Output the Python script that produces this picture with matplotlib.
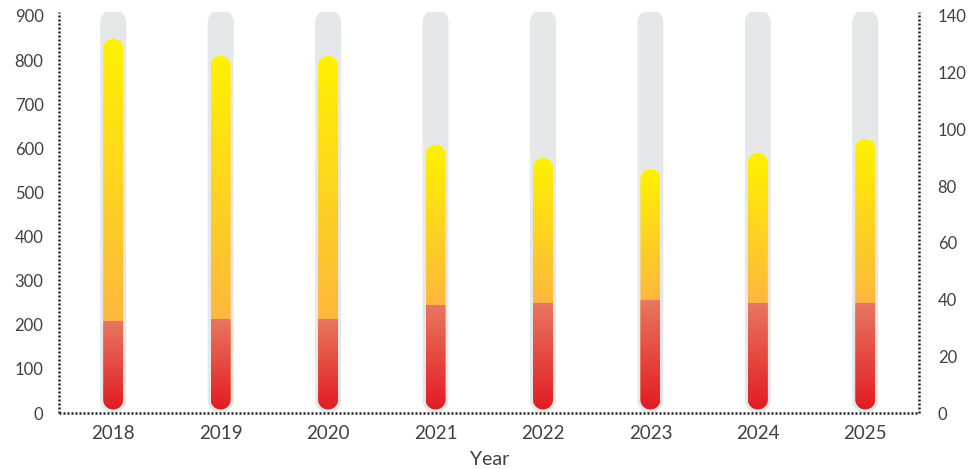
import numpy as np
import matplotlib
matplotlib.use('Agg')
import matplotlib.pyplot as plt
from matplotlib.patches import Polygon
from matplotlib.colors import LinearSegmentedColormap

years = ['2018', '2019', '2020', '2021', '2022', '2023', '2024', '2025']
totals = [848, 809, 809, 608, 578, 553, 589, 621]          # left axis
reds = [32.5, 33.3, 33.3, 38.1, 38.9, 39.8, 38.9, 38.9]    # right axis
track_max = 900

plt.rcParams['font.family'] = ['Lato', 'DejaVu Sans']
txt = '#414042'
dark = '#231F20'

W, H = 970, 469
fig = plt.figure(figsize=(W / 100, H / 100), dpi=100)
x0, x1, ytop, ybot = 59.5, 919, 12, 413
ax = fig.add_axes([x0 / W, (H - ybot) / H, (x1 - x0) / W, (ybot - ytop) / H])
ax2 = ax.twinx()

ymax = 909
ymax2 = ymax * 140 / 900
sx = (x1 - x0) / 8
sy = (ybot - ytop) / ymax
sy2 = (ybot - ytop) / ymax2

yel = LinearSegmentedColormap.from_list('yel', ['#FDB83C', '#FFF200'])
red = LinearSegmentedColormap.from_list('red', ['#E31B23', '#E8775E'])


def capsule(a, x, y0, y1, wpx, syy, top=True, **kw):
    # rounded column in data coords, radius = half width in pixels
    rx = wpx / 2 / sx
    ry = wpx / 2 / syy
    t = np.linspace(0, np.pi, 40)
    pts = []
    if top:
        pts += list(zip(x + rx * np.cos(t), y1 - ry + ry * np.sin(t)))
    else:
        pts += [(x + rx, y1), (x - rx, y1)]
    pts += list(zip(x - rx * np.cos(t), y0 + ry - ry * np.sin(t)))
    return Polygon(pts, closed=True, transform=a.transData, **kw)


for i, (v, r) in enumerate(zip(totals, reds)):
    # grey track
    ax.add_patch(capsule(ax, i, 0, track_max + 6.6 / sy, 26, sy,
                         facecolor='#E6E7E8', edgecolor='none', zorder=1))
    w = 20 / sx
    # yellow column, gradient from red top to column top
    b = 3.5 / sy
    rl = r * 900 / 140
    clip = capsule(ax, i, b, v, 20, sy, facecolor='none', edgecolor='none')
    yy = np.linspace(b, v, 300)
    g = np.clip((yy - rl) / (v - rl), 0, 1)[:, None]
    im = ax.imshow(g, extent=[i - w / 2, i + w / 2, b, v], origin='lower',
                   aspect='auto', cmap=yel, vmin=0, vmax=1, zorder=2,
                   interpolation='bilinear')
    im.set_clip_path(clip)
    # red column on the right axis, flat top
    b2 = 3.5 / sy2
    clip2 = capsule(ax2, i, b2, r, 20, sy2, top=False,
                    facecolor='none', edgecolor='none')
    g2 = np.linspace(0, 1, 300)[:, None]
    im2 = ax2.imshow(g2, extent=[i - w / 2, i + w / 2, b2, r], origin='lower',
                     aspect='auto', cmap=red, vmin=0, vmax=1, zorder=2,
                     interpolation='bilinear')
    im2.set_clip_path(clip2)

ax.set_xlim(-0.5, 7.5)
ax.set_ylim(0, ymax)
ax2.set_ylim(0, ymax2)
ax.set_xticks(range(8))
ax.set_xticklabels(years)
ax.set_yticks(range(0, 901, 100))
ax2.set_yticks(range(0, 141, 20))

ax.tick_params(axis='x', length=0, pad=8.5, labelsize=13.5, labelcolor=txt)
ax.tick_params(axis='y', length=0, pad=11.5, labelsize=12, labelcolor=txt)
ax2.tick_params(axis='y', length=0, pad=13.5, labelsize=12, labelcolor=txt)
ax.set_xlabel('Year', fontsize=14, color=txt, labelpad=6.5)

for s in ['top', 'right']:
    ax.spines[s].set_visible(False)
for s in ['top', 'left', 'bottom']:
    ax2.spines[s].set_visible(False)
for sp in [ax.spines['left'], ax.spines['bottom'], ax2.spines['right']]:
    sp.set_color(dark)
    sp.set_linewidth(1.8)
    sp.set_linestyle((0, (0.8, 0.8)))
    sp.set_capstyle('butt')
ax.spines['bottom'].set_zorder(5)

fig.savefig('out.png', dpi=100)
